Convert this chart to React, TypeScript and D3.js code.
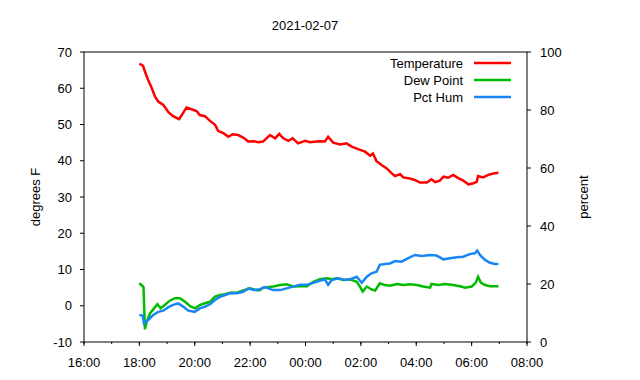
import React from 'react'
import * as d3 from 'd3'

// overnight weather log, 2021-02-06 18:00 -> 2021-02-07 07:00
const title = '2021-02-07'
const seriesNames = ['Temperature', 'Dew Point', 'Pct Hum']
const seriesColors = ['#ff0000', '#00bb00', '#1a86f5']

// minutes after 18:00 / degrees F
const tempMinutes = [0, 8, 12, 19, 27, 34, 41, 52, 63, 73, 86, 92, 102, 113, 124, 131, 142, 153, 164, 171, 182, 193, 202, 214, 225, 236, 247, 258, 268, 283, 294, 303, 312, 323, 332, 344, 359, 370, 388, 402, 409, 420, 435, 449, 460, 474, 489, 500, 506, 514, 525, 536, 547, 554, 565, 572, 586, 597, 608, 623, 633, 641, 651, 659, 669, 680, 691, 702, 713, 724, 731, 734, 745, 756, 767, 778]
const tempValues = [66.8, 66.2, 64.6, 62.3, 60, 57.7, 56.3, 55.4, 53.4, 52.3, 51.5, 52.6, 54.7, 54.2, 53.7, 52.6, 52.3, 51, 49.9, 48.2, 47.6, 46.6, 47.3, 47.1, 46.4, 45.3, 45.4, 45.1, 45.3, 47.1, 46.2, 47.4, 46.2, 45.5, 46.2, 44.8, 45.5, 45.1, 45.4, 45.3, 46.6, 45, 44.5, 44.8, 43.9, 43.2, 42.5, 41.4, 42, 39.9, 38.8, 37.9, 36.5, 35.8, 36.3, 35.4, 35.1, 34.7, 34, 34, 34.9, 34.1, 34.5, 35.6, 35.3, 36.1, 35.2, 34.5, 33.5, 33.8, 34.2, 35.8, 35.4, 36.1, 36.5, 36.7]

const dewMinutes = [0, 8, 9, 12, 16, 23, 30, 39, 46, 55, 66, 77, 88, 99, 110, 121, 131, 142, 153, 164, 175, 186, 196, 211, 225, 240, 254, 261, 268, 290, 305, 319, 333, 348, 363, 377, 391, 406, 417, 428, 442, 456, 471, 478, 484, 493, 503, 511, 521, 532, 543, 558, 572, 586, 601, 615, 630, 633, 648, 662, 680, 695, 706, 720, 729, 734, 740, 749, 760, 778]
const dewValues = [6.2, 5.3, 5.0, -6.5, -4.4, -2.1, -1, 0.4, -0.7, 0.2, 1.4, 2.1, 2.1, 1.1, -0.1, -0.7, 0.2, 0.7, 1.1, 2.5, 3, 3.2, 3.6, 3.6, 4.2, 4.8, 4.3, 4.3, 5, 5.3, 5.7, 5.9, 5.3, 5.4, 5.4, 6.6, 7.3, 7.6, 7.3, 7.6, 7.1, 7.3, 6.6, 5.3, 3.9, 5.3, 4.5, 4.2, 6.2, 5.7, 5.5, 6, 5.7, 5.9, 5.7, 5.3, 5, 6, 5.7, 6, 5.7, 5.4, 5, 5.3, 6.4, 8, 6.4, 5.7, 5.4, 5.4]

// minutes after 18:00 / percent (right axis)
const humMinutes = [0, 7, 10, 19, 30, 41, 52, 63, 73, 84, 95, 106, 120, 131, 142, 153, 164, 175, 186, 196, 211, 225, 236, 247, 261, 272, 290, 305, 319, 333, 348, 363, 377, 391, 402, 409, 417, 431, 446, 456, 471, 482, 493, 503, 514, 521, 532, 543, 554, 568, 583, 597, 612, 630, 644, 659, 673, 688, 702, 716, 727, 732, 738, 749, 760, 770, 778]
const humValues = [9.3, 9.1, 6.4, 7.6, 9.3, 10.4, 10.8, 12, 12.8, 13.3, 12.2, 10.8, 10.4, 11.6, 12.2, 13, 14.5, 15.6, 16.2, 16.8, 16.8, 17.3, 18.5, 17.9, 18.2, 18.9, 17.9, 17.9, 18.5, 19.1, 19.7, 19.7, 20.4, 21.1, 21.6, 19.7, 21.4, 22, 21.4, 21.6, 22.5, 20.4, 22.5, 23.7, 24.2, 26.6, 26.9, 27.1, 27.9, 27.7, 28.9, 30, 29.7, 30, 29.8, 28.5, 28.9, 29.2, 29.4, 30.3, 30.6, 31.5, 30, 28.3, 27.3, 26.9, 26.9]

const leftTicks = [-10, 0, 10, 20, 30, 40, 50, 60, 70]
const rightTicks = [0, 20, 40, 60, 80, 100]

const width = 640
const height = 380
const margin = {left: 84, right: 113, top: 52, bottom: 38}
const font = '"Liberation Sans", Arial, sans-serif'

const start = new Date(2021, 1, 6, 18, 0)
const toDate = (m: number) => new Date(start.getTime() + m * 60000)

export default function App() {
  const x = d3
    .scaleTime()
    .domain([new Date(2021, 1, 6, 16, 0), new Date(2021, 1, 7, 8, 0)])
    .range([margin.left, width - margin.right])
  const y = d3.scaleLinear().domain([-10, 70]).range([height - margin.bottom, margin.top])
  const y2 = d3.scaleLinear().domain([0, 100]).range([height - margin.bottom, margin.top])

  const majorTicks = x.ticks(d3.timeHour.every(2)!)
  const minorTicks = x.ticks(d3.timeHour.every(1)!)
  const fmt = d3.timeFormat('%H:%M')

  const line = (scale: d3.ScaleLinear<number, number>) =>
    d3
      .line<[number, number]>()
      .x(d => x(toDate(d[0])))
      .y(d => scale(d[1]))

  const series = [
    {pts: tempMinutes.map((m, i) => [m, tempValues[i]] as [number, number]), scale: y},
    {pts: dewMinutes.map((m, i) => [m, dewValues[i]] as [number, number]), scale: y},
    {pts: humMinutes.map((m, i) => [m, humValues[i]] as [number, number]), scale: y2}
  ]

  const x0 = margin.left
  const x1 = width - margin.right
  const yTop = margin.top
  const yBot = height - margin.bottom

  return (
    <svg
      width={width}
      height={height}
      style={{position: 'absolute', left: 0, top: 0, background: '#fff'}}
      fontFamily={font}
      fontSize={13}
    >
      <text x={305} y={30} textAnchor="middle" fill="#000">
        {title}
      </text>

      {/* left axis */}
      {leftTicks.map(t => (
        <g key={'l' + t}>
          <line x1={x0 - 4} x2={x0} y1={y(t)} y2={y(t)} stroke="#000" />
          <text x={72} y={y(t)} dy="0.35em" textAnchor="end">
            {t}
          </text>
        </g>
      ))}
      {/* right axis */}
      {rightTicks.map(t => (
        <g key={'r' + t}>
          <line x1={x1} x2={x1 + 4} y1={y2(t)} y2={y2(t)} stroke="#000" />
          <text x={540} y={y2(t)} dy="0.35em" textAnchor="start">
            {t}
          </text>
        </g>
      ))}
      {/* x axis */}
      {minorTicks.map(t => (
        <line key={'m' + t.getTime()} x1={x(t)} x2={x(t)} y1={yBot} y2={yBot + 2} stroke="#000" />
      ))}
      {majorTicks.map(t => (
        <g key={'M' + t.getTime()}>
          <line x1={x(t)} x2={x(t)} y1={yBot} y2={yBot + 4} stroke="#000" />
          <text x={x(t)} y={362} dy="0.35em" textAnchor="middle">
            {fmt(t)}
          </text>
        </g>
      ))}

      <text transform={`translate(40,${(yTop + yBot) / 2}) rotate(-90)`} textAnchor="middle">
        degrees F
      </text>
      <text transform={`translate(588,${(yTop + yBot) / 2}) rotate(-90)`} textAnchor="middle">
        percent
      </text>

      {series.map((s, i) => (
        <path
          key={seriesNames[i]}
          d={line(s.scale)(s.pts) || ''}
          fill="none"
          stroke={seriesColors[i]}
          strokeWidth={2.5}
          strokeLinejoin="miter"
        />
      ))}

      <rect x={x0} y={yTop} width={x1 - x0} height={yBot - yTop} fill="none" stroke="#000" />

      {/* legend */}
      {seriesNames.map((n, i) => (
        <g key={'k' + n} transform={`translate(0,${63 + i * 17})`}>
          <text x={463} y={0} dy="0.35em" textAnchor="end">
            {n}
          </text>
          <line x1={474} x2={511} y1={0} y2={0} stroke={seriesColors[i]} strokeWidth={2.5} />
        </g>
      ))}
    </svg>
  )
}
